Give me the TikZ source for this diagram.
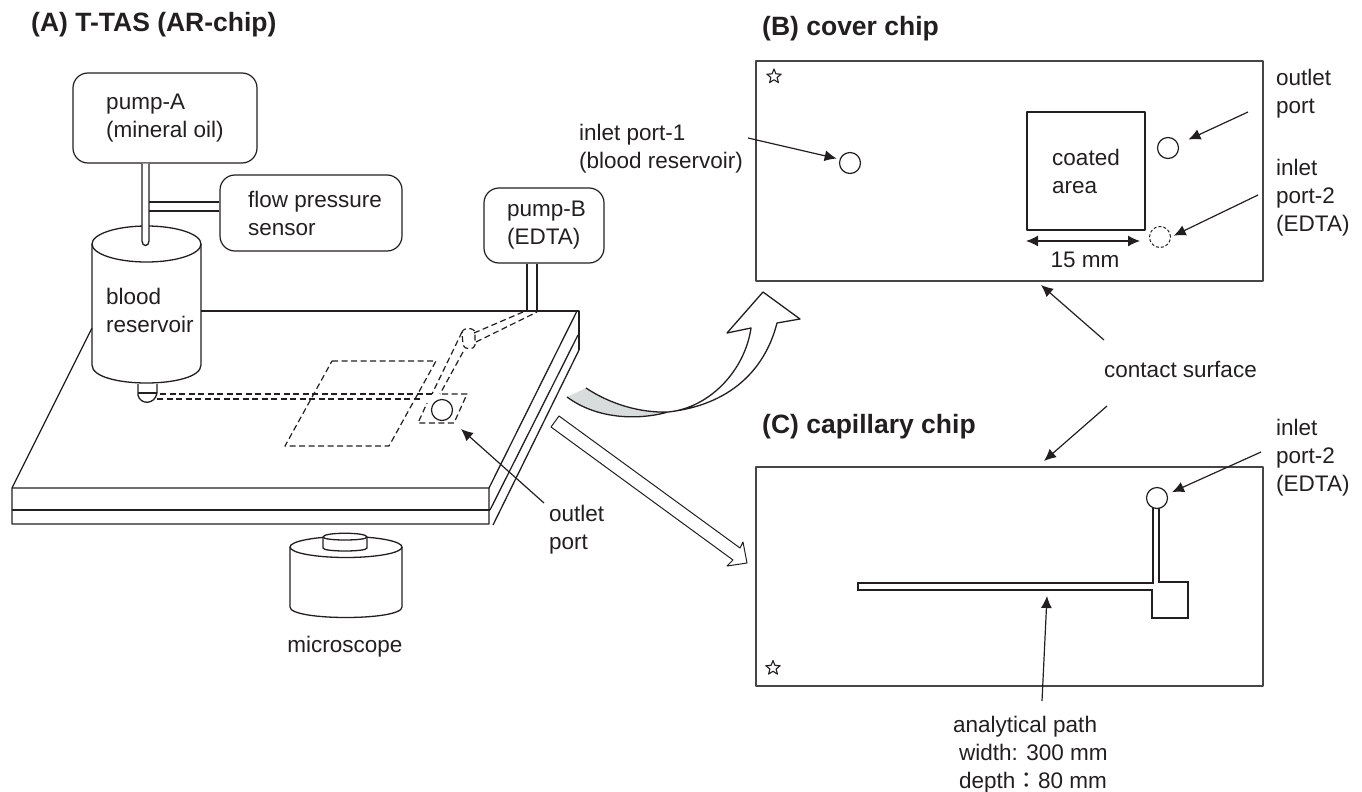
\documentclass[tikz,border=0pt]{standalone}
\usepackage{fontspec}
\setmainfont{Liberation Sans}
\newfontfamily\cjk{Noto Sans CJK TC}
\usepackage{tikz}
\usetikzlibrary{shapes.geometric, arrows.meta, positioning, calc}
\definecolor{chipink}{RGB}{35, 31, 32}
\definecolor{chipgray}{RGB}{217, 220, 220}
\definecolor{chipedge}{RGB}{70, 70, 70}

\begin{document}
\begin{tikzpicture}[x=1pt, y=-1pt, >=Latex, line join=round,
    bodytext/.style={font=\fontsize{22.5}{28}\selectfont, text=chipink, align=left, inner sep=0pt},
    headtext/.style={font=\fontsize{26.5}{30}\selectfont\bfseries, text=chipink, anchor=base west, inner sep=0pt},
    pumpbox/.style={bodytext, draw=chipink, line width=1.2pt, rounded corners=15pt},
    chipbox/.style={draw=chipedge, line width=1.4pt},
    portring/.style={circle, draw=chipink, line width=1.2pt, minimum size=21pt, inner sep=0pt},
    chipstar/.style={star, star points=5, star point ratio=2.3, draw=chipink, line width=1.1pt, minimum size=15pt, inner sep=0pt},
    outline/.style={draw=chipink, line width=1.3pt},
    heavyline/.style={draw=chipink, line width=2.1pt},
    hidden/.style={draw=chipink, line width=1.2pt, dash pattern=on 6pt off 3.5pt},
    callout/.style={draw=chipink, line width=1.2pt, -{Latex[length=12pt, width=11pt]}},
    hollow/.style={draw=chipink, line width=1pt, fill=white}]
    \useasboundingbox (0,0) rectangle (1362,792);

    \node[headtext] (titleA) at (31,32) {(A) T-TAS (AR-chip)};
    \node[headtext] (titleB) at (762,36) {(B) cover chip};
    \node[headtext] (titleC) at (762,433) {(C) capillary chip};

    % plate
    \draw[heavyline] (201,311) -- (579,311) -- (579,350);
    \draw[outline] (92,328) -- (12,488) -- (12,524) -- (489,524) -- (489,488);
    \draw[outline] (12,488) -- (489,488) -- (577,311);
    \draw[heavyline] (12,510) -- (490,510);
    \draw[outline] (490,510) -- (578,335);
    \draw[outline] (493,525) -- (579,350);

    % reservoir
    \draw[outline] (146.5,244) ellipse [x radius=54.5, y radius=18];
    \draw[outline] (92,244) -- (92,365) .. controls (92,389) and (201,389) .. (201,365) -- (201,244);
    \node[bodytext, anchor=west] (reservoir) at (106,310) {blood\\reservoir};
    \draw[outline, fill=white] (138,384) -- (138,395) .. controls (140,405) and (155,405) .. (157,393) -- (157,384);
    \draw[outline] (138,393) -- (157,393);

    % pumps
    \node[pumpbox, minimum width=184pt, minimum height=90pt] (pumpA) at (165,118) {pump-A\\(mineral oil)};
    \node[pumpbox, minimum width=182pt, minimum height=76pt] (sensor) at (311,213) {\hspace*{8pt}flow pressure\\\hspace*{8pt}sensor};
    \node[pumpbox, minimum width=120pt, minimum height=75pt] (pumpB) at (544,225.5) {\hspace*{5pt}pump-B\\\hspace*{5pt}(EDTA)};
    \draw[outline, fill=white] (142,0 |- pumpA.south) -- (142,241) .. controls (142,247) and (149,247) .. (149,241) -- (149,0 |- pumpA.south);
    \draw[outline] (149,202) -- (149,202 -| sensor.west);
    \draw[outline] (149,211) -- (149,211 -| sensor.west);
    \draw[outline] (527,0 |- pumpB.south) -- (527,311);
    \draw[outline] (537,0 |- pumpB.south) -- (537,311);

    % hidden channels
    \draw[hidden] (160,394) -- (433,394);
    \draw[hidden] (157,399) -- (423,399);
    \draw[hidden] (332,361) -- (436,361) -- (389,446) -- (285,446) -- cycle;
    \draw[hidden] (442,394) -- (467,394) -- (454,423) -- (418,423) -- (427,403);
    \draw[hidden] (462,332) -- (432,394);
    \draw[hidden] (463,352) -- (440,394);
    \draw[hidden] (462,333) .. controls (462,327) and (475,327) .. (475,333) -- (475,345) .. controls (475,350) and (464,350) .. (463,345) -- cycle;
    \draw[hidden] (474,333) -- (523,312);
    \draw[hidden] (476,342) -- (537,312);
    \node[portring] (plateOutlet) at (442,410) {};
    \node[bodytext, anchor=west] (plateOutletText) at (549,530) {outlet\\port};
    \coordinate (plateOutletTail) at (544,503);
    \coordinate (plateOutletTip) at (461,429);
    \draw[callout] (plateOutletTail) -- (plateOutletTip);

    % microscope
    \draw[outline] (346,547) ellipse [x radius=56, y radius=10.5];
    \draw[outline] (290,547) -- (290,607) .. controls (290,621) and (402,621) .. (402,607) -- (402,547);
    \draw[outline, fill=white] (323,537) .. controls (323,532) and (367,532) .. (367,537) -- (367,548) .. controls (367,552) and (323,552) .. (323,548) -- cycle;
    \draw[outline] (323,537) .. controls (323,541) and (367,541) .. (367,537);
    \node[bodytext, anchor=base] (microscope) at (345,652) {microscope};

    % curved arrow
    \fill[chipgray] (586,388) .. controls (610,404) and (640,413) .. (668,412) .. controls (640,420) and (598,420) .. (567,397) -- cycle;
    \draw[outline] (567,397) .. controls (598,420) and (640,420) .. (668,412) .. controls (730,405) and (765,370) .. (777,323)
        -- (800,319) -- (763,292) -- (727,333) -- (751,328) .. controls (745,370) and (710,408) .. (668,412) .. controls (640,413) and (610,404) .. (586,388);

    % straight arrow
    \draw[hollow] (559,416) -- (740,548) -- (743,542) -- (747,563) -- (727,566) -- (733,560) -- (551,427) -- cycle;

    % cover chip
    \draw[chipbox] (756,61) rectangle (1263,281);
    \node[chipstar] (coverStar) at (774,76.5) {};
    \node[portring] (coverInletOne) at (850,163) {};
    \node[portring] (coverOutlet) at (1168,148) {};
    \node[portring, dash pattern=on 3pt off 2pt, line width=1pt] (coverInletTwo) at (1160,237) {};
    \node[bodytext, draw=chipink, line width=1.3pt, minimum width=118pt, minimum height=118pt] (coated) at (1086,171) {coated\\area};
    \coordinate (dimLeft) at (1026,241);
    \coordinate (dimRight) at (1140,241);
    \draw[draw=chipink, line width=1.3pt, {Latex[length=12pt, width=11pt]}-{Latex[length=12pt, width=11pt]}] (dimLeft) -- (dimRight);
    \node[bodytext, anchor=base] (dimText) at (1085,267) {15 mm};
    \node[bodytext, anchor=west] (inletOneText) at (579,149) {inlet port-1\\(blood reservoir)};
    \node[bodytext, anchor=west] (coverOutletText) at (1276,94) {outlet\\port};
    \node[bodytext, anchor=west] (coverInletText) at (1276,198) {inlet\\port-2\\(EDTA)};
    \coordinate (inletOneTail) at (748,138);
    \coordinate (coverOutletTail) at (1248,112);
    \coordinate (coverInletTail) at (1258,195);
    \draw[callout, shorten >=3pt] (inletOneTail) -- (coverInletOne.160);
    \draw[callout, shorten >=11pt] (coverOutletTail) -- (coverOutlet.20);
    \draw[callout, shorten >=3pt] (coverInletTail) -- (coverInletTwo.east);

    % contact surface
    \node[bodytext, anchor=base west] (contact) at (1104,377) {contact surface};
    \coordinate (contactUpTail) at (1104,340);
    \coordinate (contactUpTip) at (1041,285);
    \coordinate (contactDownTail) at (1107,406);
    \coordinate (contactDownTip) at (1044,461);
    \draw[callout] (contactUpTail) -- (contactUpTip);
    \draw[callout] (contactDownTail) -- (contactDownTip);

    % capillary chip
    \draw[chipbox] (756,467) rectangle (1263,686);
    \node[chipstar] (capStar) at (773,668) {};
    \draw[draw=chipink, line width=2pt, line join=miter] (1153,505) -- (1153,583) -- (858,583) -- (858,590) -- (1152,590) -- (1152,618) -- (1188,618) -- (1188,582) -- (1159,582) -- (1159,505);
    \node[portring, fill=white] (capInlet) at (1157,498) {};
    \node[bodytext, anchor=west] (capInletText) at (1276,458) {inlet\\port-2\\(EDTA)};
    \coordinate (capInletTail) at (1261,452);
    \draw[callout, shorten >=5pt] (capInletTail) -- (capInlet.20);
    \node[bodytext, anchor=north west] (pathText) at (953,716) {analytical path\\\hspace*{6pt}width: 300 mm\\\hspace*{6pt}depth{\cjk：}80 mm};
    \coordinate (pathTail) at (1042,701);
    \coordinate (pathTip) at (1047,596);
    \draw[callout] (pathTail) -- (pathTip);
\end{tikzpicture}
\end{document}
